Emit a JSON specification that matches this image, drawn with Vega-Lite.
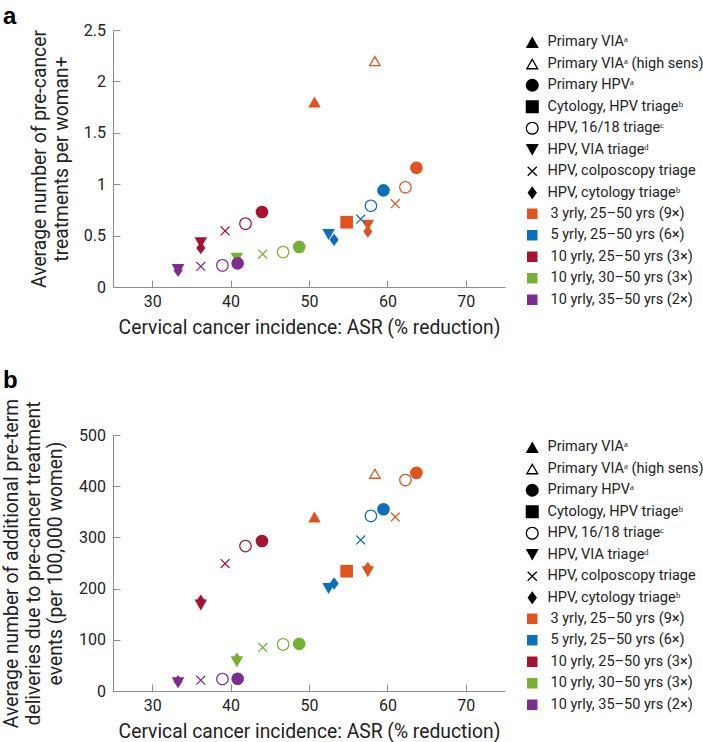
{
  "$schema": "https://vega.github.io/schema/vega-lite/v6.json",
  "background": "white",
  "padding": {"left": 2, "top": 5, "right": 0, "bottom": 0},
  "spacing": 31,
  "resolve": {
    "scale": {"shape": "independent", "color": "independent", "fill": "independent"},
    "legend": {"shape": "independent", "color": "independent", "fill": "independent"}
  },
  "config": {
    "font": "Roboto",
    "view": {"stroke": null},
    "axis": {
      "grid": false,
      "domainColor": "#8c8c8c",
      "tickColor": "#8c8c8c",
      "tickSize": -7,
      "labelFontSize": 16,
      "labelColor": "#222222",
      "titleFontSize": 19.3,
      "titleFontWeight": "normal",
      "titleColor": "#222222",
      "labelFont": "Roboto",
      "titleFont": "Roboto"
    },
    "axisX": {"labelPadding": 13, "titlePadding": 9},
    "axisY": {"labelPadding": 14.5, "titlePadding": 12, "titleLineHeight": 22},
    "legend": {
      "labelFontSize": 14.5,
      "labelFont": "Roboto",
      "labelColor": "#222222",
      "orient": "right",
      "offset": 20,
      "padding": 0,
      "rowPadding": 6.5,
      "labelLimit": 300,
      "layout": {"right": {"anchor": "start", "direction": "vertical", "margin": 6.5}}
    },
    "title": {"fontSize": 24, "fontWeight": "bold", "anchor": "start", "frame": "group", "font": "Liberation Sans", "color": "#000000", "dx": -110, "offset": -7}
  },
  "datasets": {
    "pts": [
      {"strategy": "Primary VIAᵃ", "schedule": "3 yrly, 25–50 yrs (9×)", "asr": 50.7, "treatments": 1.80, "preterm": 340},
      {"strategy": "Primary VIAᵃ (high sens)", "schedule": "3 yrly, 25–50 yrs (9×)", "asr": 58.4, "treatments": 2.20, "preterm": 425},
      {"strategy": "Primary HPVᵃ", "schedule": "3 yrly, 25–50 yrs (9×)", "asr": 63.7, "treatments": 1.16, "preterm": 426},
      {"strategy": "Cytology, HPV triageᵇ", "schedule": "3 yrly, 25–50 yrs (9×)", "asr": 54.8, "treatments": 0.63, "preterm": 234},
      {"strategy": "HPV, 16/18 triageᶜ", "schedule": "3 yrly, 25–50 yrs (9×)", "asr": 62.3, "treatments": 0.97, "preterm": 412},
      {"strategy": "HPV, VIA triageᵈ", "schedule": "3 yrly, 25–50 yrs (9×)", "asr": 57.5, "treatments": 0.60, "preterm": 233},
      {"strategy": "HPV, colposcopy triage", "schedule": "3 yrly, 25–50 yrs (9×)", "asr": 61.0, "treatments": 0.81, "preterm": 340},
      {"strategy": "HPV, cytology triageᵇ", "schedule": "3 yrly, 25–50 yrs (9×)", "asr": 57.5, "treatments": 0.54, "preterm": 240},
      {"strategy": "Primary HPVᵃ", "schedule": "5 yrly, 25–50 yrs (6×)", "asr": 59.5, "treatments": 0.94, "preterm": 355},
      {"strategy": "HPV, 16/18 triageᶜ", "schedule": "5 yrly, 25–50 yrs (6×)", "asr": 57.9, "treatments": 0.79, "preterm": 342},
      {"strategy": "HPV, VIA triageᵈ", "schedule": "5 yrly, 25–50 yrs (6×)", "asr": 52.5, "treatments": 0.51, "preterm": 200},
      {"strategy": "HPV, colposcopy triage", "schedule": "5 yrly, 25–50 yrs (6×)", "asr": 56.6, "treatments": 0.66, "preterm": 295},
      {"strategy": "HPV, cytology triageᵇ", "schedule": "5 yrly, 25–50 yrs (6×)", "asr": 53.2, "treatments": 0.46, "preterm": 210},
      {"strategy": "Primary HPVᵃ", "schedule": "10 yrly, 25–50 yrs (3×)", "asr": 44.0, "treatments": 0.73, "preterm": 293},
      {"strategy": "HPV, 16/18 triageᶜ", "schedule": "10 yrly, 25–50 yrs (3×)", "asr": 41.9, "treatments": 0.616, "preterm": 283},
      {"strategy": "HPV, colposcopy triage", "schedule": "10 yrly, 25–50 yrs (3×)", "asr": 39.3, "treatments": 0.545, "preterm": 249},
      {"strategy": "HPV, VIA triageᵈ", "schedule": "10 yrly, 25–50 yrs (3×)", "asr": 36.2, "treatments": 0.43, "preterm": 168},
      {"strategy": "HPV, cytology triageᵇ", "schedule": "10 yrly, 25–50 yrs (3×)", "asr": 36.2, "treatments": 0.38, "preterm": 176},
      {"strategy": "Primary HPVᵃ", "schedule": "10 yrly, 30–50 yrs (3×)", "asr": 48.75, "treatments": 0.39, "preterm": 92},
      {"strategy": "HPV, 16/18 triageᶜ", "schedule": "10 yrly, 30–50 yrs (3×)", "asr": 46.7, "treatments": 0.34, "preterm": 91},
      {"strategy": "HPV, colposcopy triage", "schedule": "10 yrly, 30–50 yrs (3×)", "asr": 44.1, "treatments": 0.32, "preterm": 85},
      {"strategy": "HPV, VIA triageᵈ", "schedule": "10 yrly, 30–50 yrs (3×)", "asr": 40.8, "treatments": 0.28, "preterm": 57},
      {"strategy": "HPV, cytology triageᵇ", "schedule": "10 yrly, 30–50 yrs (3×)", "asr": 40.8, "treatments": 0.26, "preterm": 63},
      {"strategy": "Primary HPVᵃ", "schedule": "10 yrly, 35–50 yrs (2×)", "asr": 40.9, "treatments": 0.23, "preterm": 24},
      {"strategy": "HPV, 16/18 triageᶜ", "schedule": "10 yrly, 35–50 yrs (2×)", "asr": 38.96, "treatments": 0.21, "preterm": 23.5},
      {"strategy": "HPV, colposcopy triage", "schedule": "10 yrly, 35–50 yrs (2×)", "asr": 36.2, "treatments": 0.20, "preterm": 21},
      {"strategy": "HPV, VIA triageᵈ", "schedule": "10 yrly, 35–50 yrs (2×)", "asr": 33.3, "treatments": 0.17, "preterm": 16},
      {"strategy": "HPV, cytology triageᵇ", "schedule": "10 yrly, 35–50 yrs (2×)", "asr": 33.3, "treatments": 0.16, "preterm": 19}
    ]
  },
  "vconcat": [
    {
      "title": {"text": "a"},
      "width": 392,
      "height": 257,
      "data": {"name": "pts"},
      "encoding": {
        "x": {"field": "asr", "type": "quantitative", "scale": {"domain": [25, 75], "nice": false, "zero": false},
          "axis": {"values": [30, 40, 50, 60, 70], "title": "Cervical cancer incidence: ASR (% reduction)"}},
        "y": {"field": "treatments", "type": "quantitative", "scale": {"domain": [0, 2.5], "nice": false},
          "axis": {"values": [0, 0.5, 1, 1.5, 2, 2.5], "labelExpr": "'' + datum.value", "title": ["Average number of pre-cancer", "treatments per woman+"]}}
      },
      "layer": [
        {
          "mark": {"type": "point", "filled": true, "size": 160, "strokeWidth": 0, "opacity": 1},
          "encoding": {
            "shape": {"field": "strategy", "type": "nominal",
              "scale": {"domain": ["Primary VIAᵃ", "Primary VIAᵃ (high sens)", "Primary HPVᵃ", "Cytology, HPV triageᵇ", "HPV, 16/18 triageᶜ", "HPV, VIA triageᵈ", "HPV, colposcopy triage", "HPV, cytology triageᵇ"],
                "range": ["triangle-up", "M0,-0.866L-1,0.866L1,0.866ZM0,-0.465L0.653,0.666L-0.653,0.666Z", "circle", "square", "M1,0A1,1,0,1,1,-1,0A1,1,0,1,1,1,0ZM0.8,0A0.8,0.8,0,1,0,-0.8,0A0.8,0.8,0,1,0,0.8,0Z", "triangle-down", "M-0.629,-0.771L0.771,0.629L0.629,0.771L-0.771,-0.629ZM-0.629,0.771L-0.771,0.629L0.629,-0.771L0.771,-0.629Z", "M0,-1L0.72,0L0,1L-0.72,0Z"]},
              "legend": {"title": " ", "titleFontSize": 4, "titlePadding": 1, "symbolSize": 170, "labelOffset": 8, "symbolFillColor": "black", "symbolStrokeColor": "transparent", "symbolStrokeWidth": 0, "symbolOpacity": 1}},
            "fill": {"field": "schedule", "type": "nominal",
              "scale": {"range": ["#A6122F", "#78B036", "#7D2D8F", "#E0531F", "#0A6FBD"]},
              "legend": null}
          }
        },
        {
          "mark": {"type": "point", "filled": true, "opacity": 0},
          "encoding": {
            "color": {"field": "schedule", "type": "nominal",
              "scale": {"domain": ["3 yrly, 25–50 yrs (9×)", "5 yrly, 25–50 yrs (6×)", "10 yrly, 25–50 yrs (3×)", "10 yrly, 30–50 yrs (3×)", "10 yrly, 35–50 yrs (2×)"], "range": ["#E0531F", "#0A6FBD", "#A6122F", "#78B036", "#7D2D8F"]},
              "legend": {"title": null, "symbolType": "square", "symbolSize": 110, "symbolOpacity": 1, "symbolStrokeWidth": 0, "labelOffset": 11}}
          }
        }
      ]
    },
    {
      "title": {"text": "b", "offset": 5},
      "width": 392,
      "height": 256,
      "data": {"name": "pts"},
      "encoding": {
        "x": {"field": "asr", "type": "quantitative", "scale": {"domain": [25, 75], "nice": false, "zero": false},
          "axis": {"values": [30, 40, 50, 60, 70], "title": "Cervical cancer incidence: ASR (% reduction)"}},
        "y": {"field": "preterm", "type": "quantitative", "scale": {"domain": [0, 500], "nice": false},
          "axis": {"values": [0, 100, 200, 300, 400, 500], "titlePadding": 13, "title": ["Average number of additional pre-term", "deliveries due to pre-cancer treatment", "events (per 100,000 women)"]}}
      },
      "layer": [
        {
          "mark": {"type": "point", "filled": true, "size": 160, "strokeWidth": 0, "opacity": 1},
          "encoding": {
            "shape": {"field": "strategy", "type": "nominal",
              "scale": {"domain": ["Primary VIAᵃ", "Primary VIAᵃ (high sens)", "Primary HPVᵃ", "Cytology, HPV triageᵇ", "HPV, 16/18 triageᶜ", "HPV, VIA triageᵈ", "HPV, colposcopy triage", "HPV, cytology triageᵇ"],
                "range": ["triangle-up", "M0,-0.866L-1,0.866L1,0.866ZM0,-0.465L0.653,0.666L-0.653,0.666Z", "circle", "square", "M1,0A1,1,0,1,1,-1,0A1,1,0,1,1,1,0ZM0.8,0A0.8,0.8,0,1,0,-0.8,0A0.8,0.8,0,1,0,0.8,0Z", "triangle-down", "M-0.629,-0.771L0.771,0.629L0.629,0.771L-0.771,-0.629ZM-0.629,0.771L-0.771,0.629L0.629,-0.771L0.771,-0.629Z", "M0,-1L0.72,0L0,1L-0.72,0Z"]},
              "legend": {"title": " ", "titleFontSize": 4, "titlePadding": 1, "symbolSize": 170, "labelOffset": 8, "symbolFillColor": "black", "symbolStrokeColor": "transparent", "symbolStrokeWidth": 0, "symbolOpacity": 1}},
            "fill": {"field": "schedule", "type": "nominal",
              "scale": {"range": ["#A6122F", "#78B036", "#7D2D8F", "#E0531F", "#0A6FBD"]},
              "legend": null}
          }
        },
        {
          "mark": {"type": "point", "filled": true, "opacity": 0},
          "encoding": {
            "color": {"field": "schedule", "type": "nominal",
              "scale": {"domain": ["3 yrly, 25–50 yrs (9×)", "5 yrly, 25–50 yrs (6×)", "10 yrly, 25–50 yrs (3×)", "10 yrly, 30–50 yrs (3×)", "10 yrly, 35–50 yrs (2×)"], "range": ["#E0531F", "#0A6FBD", "#A6122F", "#78B036", "#7D2D8F"]},
              "legend": {"title": null, "symbolType": "square", "symbolSize": 110, "symbolOpacity": 1, "symbolStrokeWidth": 0, "labelOffset": 11}}
          }
        }
      ]
    }
  ]
}
